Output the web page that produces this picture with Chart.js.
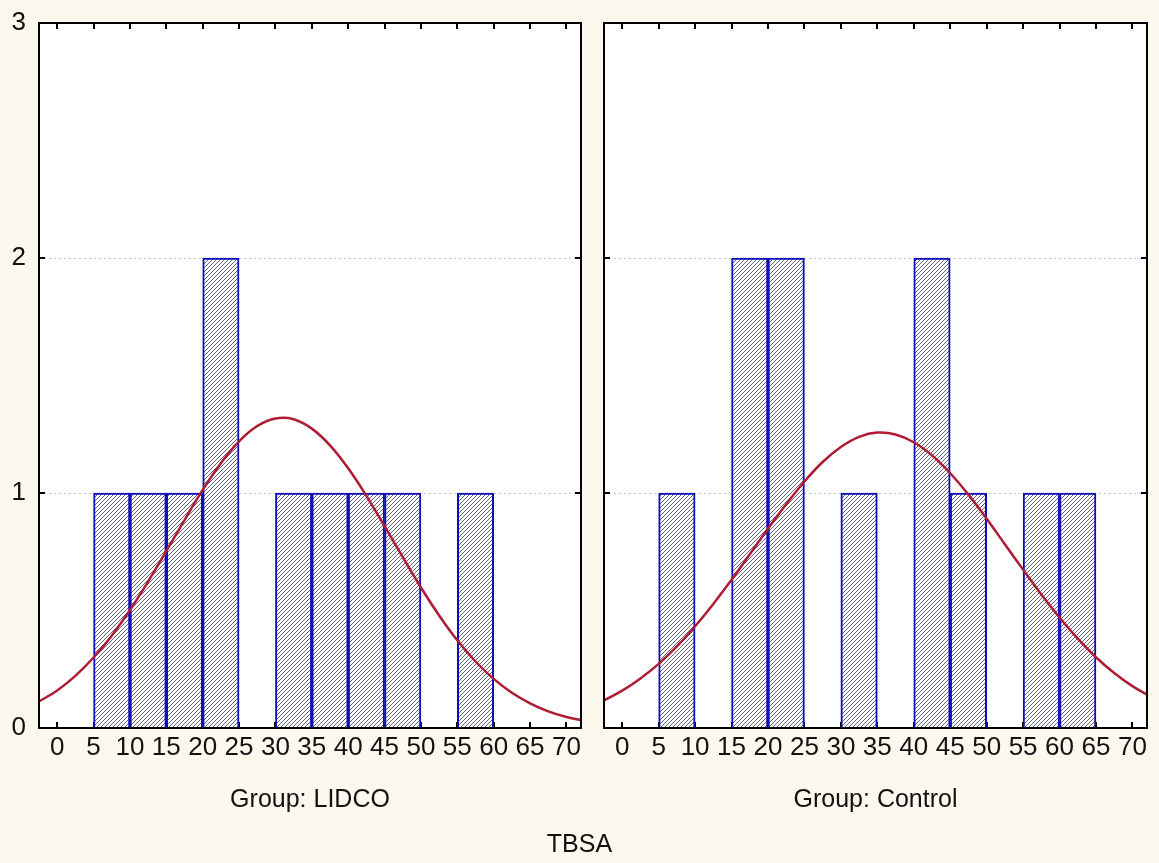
<!DOCTYPE html>
<html>
<head>
<meta charset="utf-8">
<script src="https://cdn.jsdelivr.net/npm/chart.js@4.4.1/dist/chart.umd.min.js"></script>
<style>
    html, body { margin: 0; padding: 0; background: #fcf8ee; }
    #wrap { position: relative; width: 1159px; height: 863px; overflow: hidden; }
    canvas { position: absolute; top: 0; }
    #lidcoChart { left: 0; }
    #controlChart { left: 592px; }
    #xTitle {
        position: absolute; left: 0; top: 828px; width: 1159px; text-align: center;
        font: 25px 'Liberation Sans', Arial, sans-serif; line-height: 30px; color: #111;
    }
</style>
</head>
<body>
<div id="wrap">
    <canvas id="lidcoChart" width="592" height="863"></canvas>
    <canvas id="controlChart" width="567" height="863"></canvas>
    <div id="xTitle">TBSA</div>
</div>
<script>
(function () {
    'use strict';

    var FONT = "'Liberation Sans', Arial, sans-serif";

    // axis ticks
    var X_TICKS = [0, 5, 10, 15, 20, 25, 30, 35, 40, 45, 50, 55, 60, 65, 70];
    var Y_TICKS = [0, 1, 2, 3];
    var BIN_WIDTH = 5;

    // histogram bins (left edge of bin) and counts
    var lidcoBinStarts = [5, 10, 15, 20, 30, 35, 40, 45, 55];
    var lidcoCounts    = [1, 1, 1, 2, 1, 1, 1, 1, 1];
    var controlBinStarts = [5, 15, 20, 30, 40, 45, 55, 60];
    var controlCounts    = [1, 2, 2, 1, 2, 1, 1, 1];

    // fitted normal curves
    var curveX = [-2.5, 0, 2.5, 5, 7.5, 10, 12.5, 15, 17.5, 20, 22.5, 25, 27.5, 30, 32.5, 35,
                  37.5, 40, 42.5, 45, 47.5, 50, 52.5, 55, 57.5, 60, 62.5, 65, 67.5, 70, 72.5];
    var lidcoCurve = [0.113, 0.160, 0.222, 0.300, 0.393, 0.502, 0.623, 0.753, 0.885, 1.013, 1.127,
                      1.220, 1.285, 1.317, 1.314, 1.274, 1.203, 1.105, 0.988, 0.859, 0.727, 0.598,
                      0.479, 0.373, 0.283, 0.209, 0.150, 0.105, 0.071, 0.047, 0.030];
    var controlCurve = [0.118, 0.159, 0.211, 0.273, 0.347, 0.433, 0.528, 0.631, 0.739, 0.848, 0.952,
                        1.049, 1.132, 1.196, 1.239, 1.257, 1.249, 1.216, 1.160, 1.084, 0.993, 0.890,
                        0.782, 0.674, 0.568, 0.470, 0.380, 0.301, 0.234, 0.178, 0.133];

    var BAR_EDGE = '#0c0cb8';
    var CURVE = '#b01c34';
    var TEXT = '#111111';

    function makeHatch() {
        var c = document.createElement('canvas');
        c.width = 4; c.height = 4;
        var g = c.getContext('2d');
        g.fillStyle = '#ffffff';
        g.fillRect(0, 0, 4, 4);
        g.strokeStyle = '#66667e';
        g.lineWidth = 1;
        g.beginPath();
        g.moveTo(0, 4); g.lineTo(4, 0);
        g.moveTo(-1, 1); g.lineTo(1, -1);
        g.moveTo(3, 5); g.lineTo(5, 3);
        g.stroke();
        return g.createPattern(c, 'repeat');
    }
    var hatch = makeHatch();

    // white plot background, inward tick marks, black frame
    var panelPlugin = {
        id: 'panelFrame',
        beforeDraw: function (chart) {
            var a = chart.chartArea, ctx = chart.ctx;
            ctx.save();
            ctx.fillStyle = '#ffffff';
            ctx.fillRect(a.left, a.top, a.right - a.left, a.bottom - a.top);
            ctx.restore();
        },
        beforeDatasetsDraw: function (chart) {
            var a = chart.chartArea, ctx = chart.ctx;
            var xs = chart.scales.x, ys = chart.scales.y;
            var len = 6;
            ctx.save();
            ctx.strokeStyle = '#000';
            ctx.lineWidth = 2;
            ctx.beginPath();
            xs.ticks.forEach(function (t) {
                var px = Math.round(xs.getPixelForValue(t.value));
                ctx.moveTo(px, a.bottom); ctx.lineTo(px, a.bottom - len);
                ctx.moveTo(px, a.top); ctx.lineTo(px, a.top + len);
            });
            ys.ticks.forEach(function (t) {
                var py = Math.round(ys.getPixelForValue(t.value));
                ctx.moveTo(a.left, py); ctx.lineTo(a.left + len, py);
                ctx.moveTo(a.right, py); ctx.lineTo(a.right - len, py);
            });
            ctx.stroke();
            ctx.restore();
        },
        afterDatasetsDraw: function (chart) {
            var a = chart.chartArea, ctx = chart.ctx;
            ctx.save();
            ctx.strokeStyle = '#000';
            ctx.lineWidth = 2;
            ctx.strokeRect(a.left, a.top, a.right - a.left, a.bottom - a.top);
            ctx.restore();
        }
    };

    function makePanel(id, starts, counts, curve, groupLabel, showY, axisWidth, padRight) {
        return new Chart(document.getElementById(id), {
            type: 'bar',
            data: {
                datasets: [
                    {
                        type: 'line',
                        data: curveX.map(function (x, i) { return { x: x, y: curve[i] }; }),
                        borderColor: CURVE,
                        borderWidth: 2.5,
                        pointRadius: 0,
                        tension: 0.4,
                        fill: false,
                        order: 0
                    },
                    {
                        type: 'bar',
                        data: starts.map(function (s, i) { return { x: s + BIN_WIDTH / 2, y: counts[i] }; }),
                        backgroundColor: hatch,
                        borderColor: BAR_EDGE,
                        borderWidth: 2,
                        borderSkipped: 'start',
                        barPercentage: 1,
                        categoryPercentage: 1,
                        order: 1
                    }
                ]
            },
            options: {
                responsive: false,
                animation: false,
                layout: { padding: { top: 23, right: padRight, left: 0, bottom: 0 } },
                plugins: { legend: { display: false }, tooltip: { enabled: false } },
                scales: {
                    x: {
                        type: 'linear',
                        offset: false,
                        min: -2.5,
                        max: 72,
                        afterBuildTicks: function (s) {
                            s.ticks = X_TICKS.map(function (v) { return { value: v }; });
                        },
                        afterFit: function (s) {
                            s.height = 135;
                            s.paddingLeft = 0;
                            s.paddingRight = 0;
                        },
                        grid: { display: false, drawTicks: false },
                        border: { display: false },
                        ticks: {
                            font: { family: FONT, size: 26 },
                            color: TEXT,
                            padding: 4,
                            maxRotation: 0,
                            autoSkip: false
                        },
                        title: {
                            display: true,
                            text: groupLabel,
                            font: { family: FONT, size: 25, lineHeight: 1.2 },
                            color: TEXT,
                            padding: { top: 0, bottom: 48 }
                        }
                    },
                    y: {
                        min: 0,
                        max: 3,
                        afterBuildTicks: function (s) {
                            s.ticks = Y_TICKS.map(function (v) { return { value: v }; });
                        },
                        afterFit: function (s) {
                            s.width = axisWidth;
                            s.paddingTop = 0;
                            s.paddingBottom = 0;
                        },
                        grid: { color: '#c4c4c4', drawTicks: false, lineWidth: 1 },
                        border: { display: false, dash: [2, 3] },
                        ticks: {
                            display: showY,
                            font: { family: FONT, size: 26 },
                            color: TEXT,
                            padding: 13
                        }
                    }
                }
            },
            plugins: [panelPlugin]
        });
    }

    makePanel('lidcoChart', lidcoBinStarts, lidcoCounts, lidcoCurve, 'Group: LIDCO', true, 39, 11);
    makePanel('controlChart', controlBinStarts, controlCounts, controlCurve, 'Group: Control', false, 12, 12);
})();
</script>
</body>
</html>
